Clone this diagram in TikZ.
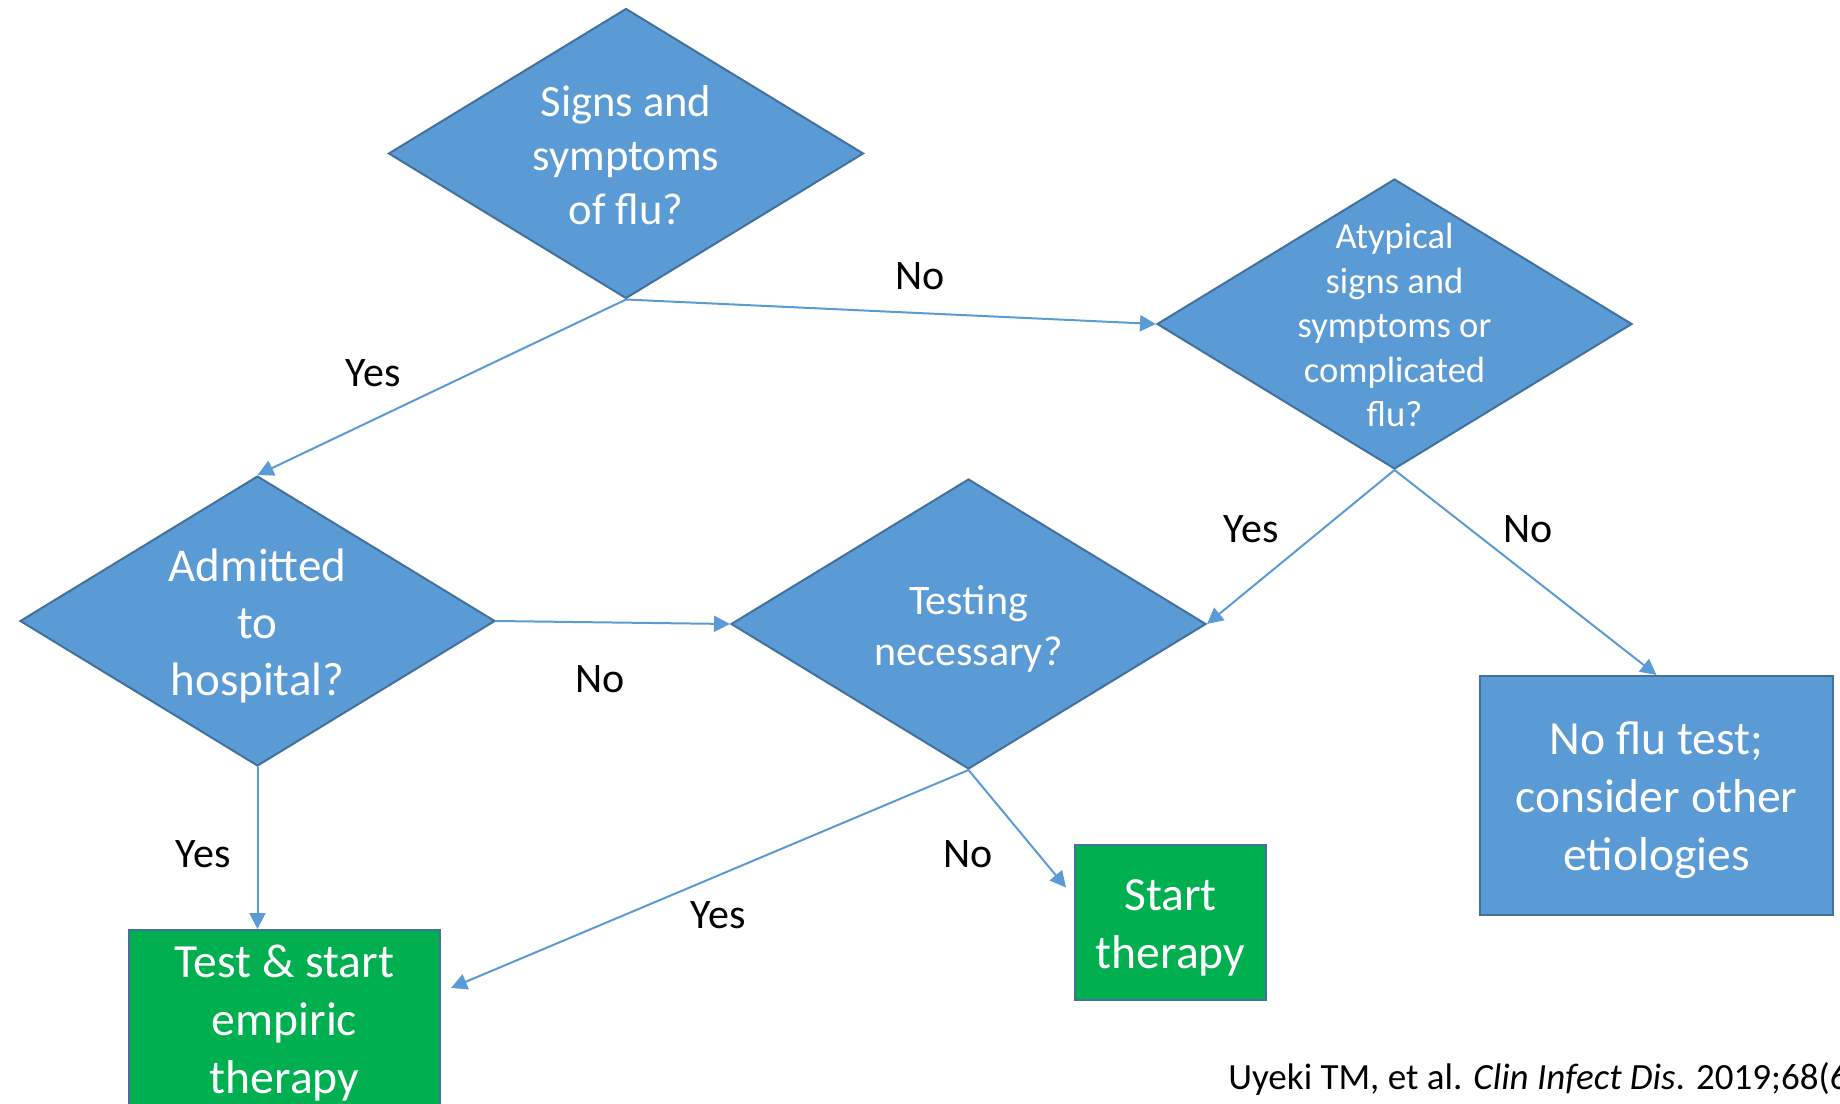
\documentclass[tikz,border=0pt]{standalone}
\usepackage{fontspec}
\setmainfont{Carlito}
\usetikzlibrary{shapes.geometric,arrows.meta}

\definecolor{flublue}{HTML}{5B9BD5}
\definecolor{fluedge}{HTML}{41719C}
\definecolor{flugreen}{HTML}{00B050}

\tikzset{
	decision/.style={diamond, fill=flublue, draw=fluedge, line width=1pt, inner sep=0pt, minimum width=237.5pt, minimum height=145pt},
	dtext/.style={text=white, align=center, inner sep=0pt},
	endbox/.style={rectangle, draw=fluedge, line width=1pt, inner sep=0pt},
	flow/.style={draw=flublue, line width=1pt, -{Triangle[length=8pt,width=8pt]}},
	answer/.style={font=\fontsize{21pt}{25pt}\selectfont, text=black, inner sep=0pt}
}

\begin{document}
\begin{tikzpicture}[x=0.5pt, y=-0.5pt]
		\useasboundingbox (0,0) rectangle (1840,1103);

		% decisions
		\node[decision] (signs) at (626,153.5) {};
		\node[dtext, font=\fontsize{22.3pt}{27pt}\selectfont] (signs-t) at ([yshift=-0.6pt]signs) {Signs and\\symptoms\\of flu?};

		\node[decision] (atyp) at (1394.5,324) {};
		\node[dtext, font=\fontsize{18.3pt}{22.3pt}\selectfont] (atyp-t) at ([yshift=-0.6pt]atyp) {Atypical\\signs and\\symptoms or\\complicated\\flu?};

		\node[decision] (admit) at (257.5,621) {};
		\node[dtext, font=\fontsize{23.5pt}{28.7pt}\selectfont] (admit-t) at ([yshift=-2.5pt]admit) {Admitted\\to\\hospital?};

		\node[decision] (testing) at (968.5,624) {};
		\node[dtext, font=\fontsize{21pt}{25.8pt}\selectfont] (testing-t) at ([yshift=-2.5pt]testing) {Testing\\necessary?};

		% outcomes
		\node[endbox, fill=flugreen, minimum width=155.5pt, minimum height=91pt] (test) at (284.5,1021) {};
		\node[dtext, font=\fontsize{23.8pt}{29pt}\selectfont] (test-t) at ([yshift=-1pt]test) {Test \& start\\empiric\\therapy};

		\node[endbox, fill=flugreen, minimum width=95.5pt, minimum height=77.5pt] (start) at (1170.5,922.5) {};
		\node[dtext, font=\fontsize{23.8pt}{29pt}\selectfont] (start-t) at ([yshift=-2.5pt]start) {Start\\therapy};

		\node[endbox, fill=flublue, minimum width=176.5pt, minimum height=119.5pt] (noflu) at (1656.5,795.5) {};
		\node[dtext, font=\fontsize{23.8pt}{29pt}\selectfont] (noflu-t) at ([yshift=-2.5pt]noflu) {No flu test;\\consider other\\etiologies};

		% connectors
		\draw[flow] (signs.south) -- (admit.north);
		\draw[flow] (signs.south) -- (atyp.west);
		\draw[flow] (atyp.south) -- (testing.east);
		\draw[flow] (atyp.south) -- (noflu.north);
		\draw[flow] (admit.east) -- (testing.west);
		\draw[flow] (admit.south) -- (admit.south |- test.north);
		\draw[flow] (testing.south) -- ([shift={(10,-33)}]test.east);
		\draw[flow] (testing.south) -- ([shift={(-8,-35)}]start.west);

		\node[answer] (yes1) at (373,373) {Yes};
		\node[answer] (no1) at (920,276) {No};
		\node[answer] (yes2) at (1251,529) {Yes};
		\node[answer] (no2) at (1528,529) {No};
		\node[answer] (no3) at (600,679) {No};
		\node[answer] (yes3) at (203,854) {Yes};
		\node[answer] (yes4) at (718,915) {Yes};
		\node[answer] (no4) at (968,854) {No};

		\node[anchor=base west, inner sep=0pt, font=\fontsize{18.5pt}{22pt}\selectfont] (cite) at (1228,1089) {Uyeki TM, et al. \textit{Clin Infect Dis}. 2019;68(6)};
	\end{tikzpicture}
\end{document}
